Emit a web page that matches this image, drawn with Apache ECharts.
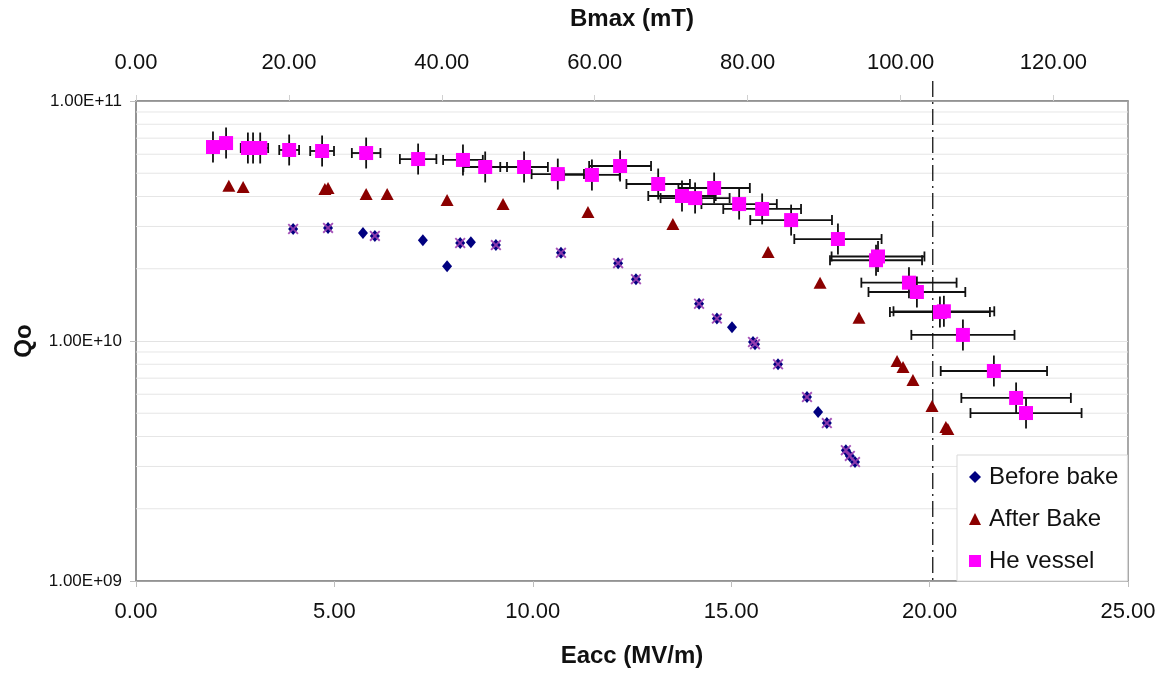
<!DOCTYPE html>
<html>
<head>
<meta charset="utf-8">
<script src="https://cdn.jsdelivr.net/npm/echarts@6/dist/echarts.min.js"></script>
<style>
html,body{margin:0;padding:0;background:#fff;}
#chart{width:1160px;height:673px;}
</style>
</head>
<body>
<div id="chart"></div>
<script>
// ---- Data ----
// He vessel: Eacc (MV/m), Qo, Eacc error (MV/m), Qo error factor
const heE = [1.94,2.27,2.82,2.95,3.13,3.86,4.69,5.80,7.11,8.24,8.80,9.78,10.63,11.49,12.20,13.16,13.76,14.09,14.57,15.20,15.78,16.51,17.69,18.65,18.70,19.48,19.68,20.26,20.36,20.84,21.62,22.18,22.43];
const heQ = [6.43e10,6.68e10,6.37e10,6.37e10,6.37e10,6.25e10,6.19e10,6.07e10,5.73e10,5.68e10,5.31e10,5.31e10,4.96e10,4.92e10,5.36e10,4.51e10,4.02e10,3.94e10,4.34e10,3.72e10,3.55e10,3.19e10,2.66e10,2.17e10,2.25e10,1.75e10,1.60e10,1.32e10,1.33e10,1.06e10,7.5e9,5.79e9,5.01e9];
const heEerr = [0.10,0.15,0.18,0.20,0.20,0.25,0.30,0.36,0.46,0.50,0.55,0.60,0.66,0.70,0.78,0.80,0.85,0.87,0.90,0.95,0.98,1.03,1.10,1.16,1.17,1.20,1.22,1.26,1.27,1.30,1.34,1.38,1.40];
const heQerr = [1.16,1.16,1.16,1.16,1.16,1.16,1.16,1.16,1.16,1.16,1.16,1.16,1.16,1.16,1.16,1.16,1.16,1.16,1.16,1.16,1.16,1.16,1.16,1.16,1.16,1.16,1.16,1.16,1.16,1.16,1.16,1.16,1.16];

// Before bake
const bbE = [3.96,4.84,5.72,6.02,7.23,7.84,8.17,8.44,9.07,10.71,12.15,12.60,14.19,14.64,15.02,15.55,15.60,16.18,16.91,17.19,17.41,17.89,17.99,18.12];
const bbQ = [2.93e10,2.96e10,2.82e10,2.74e10,2.63e10,2.05e10,2.56e10,2.58e10,2.51e10,2.33e10,2.11e10,1.81e10,1.43e10,1.24e10,1.14e10,9.9e9,9.7e9,8.0e9,5.84e9,5.06e9,4.55e9,3.51e9,3.32e9,3.13e9];

// Overlay "x" markers (unlabelled series)
const xsE = [3.96,4.84,6.02,8.17,9.07,10.71,12.15,12.60,14.19,14.64,15.55,15.60,16.18,16.91,17.41,17.89,17.99,18.12];
const xsQ = [2.93e10,2.96e10,2.74e10,2.56e10,2.51e10,2.33e10,2.11e10,1.81e10,1.43e10,1.24e10,9.9e9,9.7e9,8.0e9,5.84e9,4.55e9,3.51e9,3.32e9,3.13e9];

// After Bake
const abE = [2.34,2.70,4.76,4.84,5.80,6.33,7.84,9.25,11.39,13.53,15.93,17.24,18.22,19.18,19.33,19.58,20.06,20.41,20.46];
const abQ = [4.43e10,4.38e10,4.30e10,4.34e10,4.10e10,4.10e10,3.87e10,3.72e10,3.45e10,3.07e10,2.35e10,1.75e10,1.25e10,8.25e9,7.8e9,6.88e9,5.36e9,4.38e9,4.30e9];

// Axes
const eaccMin = 0, eaccMax = 25, eaccStep = 5;
const bmaxMin = 0, bmaxMax = 129.75, bmaxStep = 20;
const qMin = 1e9, qMax = 1e11;
const minorQ = [2e9,3e9,4e9,5e9,6e9,7e9,8e9,9e9,2e10,3e10,4e10,5e10,6e10,7e10,8e10,9e10];
const limitE = [20.08];

// ---- Chart ----
const FONT = 'Liberation Sans, Arial, sans-serif';
const zip = (a,b) => a.map((v,i)=>[v,b[i]]);
const chart = echarts.init(document.getElementById('chart'), null, {renderer:'canvas'});

const xPath = 'path://M0,1.2 L1.2,0 L5,3.8 L8.8,0 L10,1.2 L6.2,5 L10,8.8 L8.8,10 L5,6.2 L1.2,10 L0,8.8 L3.8,5 Z';

chart.setOption({
  animation:false,
  backgroundColor:'#fff',
  textStyle:{fontFamily:FONT},
  grid:{left:136,right:32,top:101,bottom:92,show:true,borderColor:'#8c8c8c',borderWidth:1.5,backgroundColor:'#fff'},
  legend:{
    data:[{name:'Before bake',icon:'diamond'},{name:'After Bake',icon:'triangle'},{name:'He vessel',icon:'rect'}],
    orient:'vertical',left:957,top:455,
    padding:[10,9,8,12],
    itemWidth:12,itemHeight:12,itemGap:18,
    backgroundColor:'#fff',borderColor:'#d9d9d9',borderWidth:1,
    textStyle:{fontSize:24,color:'#111',fontFamily:FONT,padding:[0,0,0,3]},
    selectedMode:false
  },
  xAxis:[{
    type:'value',position:'bottom',min:eaccMin,max:eaccMax,interval:eaccStep,
    name:'Eacc (MV/m)',nameLocation:'middle',nameGap:63,
    nameTextStyle:{fontSize:24,fontWeight:'bold',color:'#111',fontFamily:FONT},
    axisLine:{lineStyle:{color:'#8c8c8c',width:1.5}},
    axisTick:{show:true,inside:false,length:6,lineStyle:{color:'#bdbdbd'}},
    axisLabel:{fontSize:22,color:'#111',margin:20,formatter:v=>v.toFixed(2),hideOverlap:false},
    splitLine:{show:false}
  },{
    type:'value',position:'top',min:bmaxMin,max:bmaxMax,interval:bmaxStep,
    name:'Bmax (mT)',nameLocation:'middle',nameGap:70,
    nameTextStyle:{fontSize:24,fontWeight:'bold',color:'#111',fontFamily:FONT},
    axisLine:{lineStyle:{color:'#8c8c8c',width:1.5}},
    axisTick:{show:true,inside:false,length:6,lineStyle:{color:'#d0d0d0'}},
    axisLabel:{fontSize:22,color:'#111',margin:27,showMaxLabel:false,
      formatter:v=>(Math.abs(v % bmaxStep) < 1e-9 ? v.toFixed(2) : ''),hideOverlap:false},
    splitLine:{show:false}
  }],
  yAxis:[{
    type:'log',logBase:10,min:qMin,max:qMax,
    name:'Qo',nameLocation:'middle',nameGap:100,nameRotate:90,
    nameTextStyle:{fontSize:24,fontWeight:'bold',color:'#111',fontFamily:FONT},
    axisLine:{lineStyle:{color:'#8c8c8c',width:1.5}},
    axisTick:{show:true,inside:false,length:6,lineStyle:{color:'#bdbdbd'}},
    axisLabel:{fontSize:17,color:'#111',margin:14,formatter:function(v){
      const ex = Math.round(Math.log10(v)); const m = v/Math.pow(10,ex);
      return m.toFixed(2)+'E+'+String(ex).padStart(2,'0');
    }},
    splitLine:{show:true,lineStyle:{color:'#e3e3e3',width:1}}
  }],
  series:[
    { // minor log gridlines
      type:'custom',name:'grid',silent:true,z:1,
      data:minorQ.map(v=>[v]),
      encode:{y:0},
      renderItem:function(params,api){
        const a = api.coord([eaccMin, api.value(0)]);
        const b = api.coord([eaccMax, api.value(0)]);
        return {type:'line',shape:{x1:a[0],y1:a[1],x2:b[0],y2:b[1]},style:{stroke:'#e6e6e6',lineWidth:1}};
      }
    },
    { // Eacc limit dash-dot line
      type:'custom',name:'limit',silent:true,z:2,clip:false,
      data:limitE.map(v=>[v, qMax]),
      encode:{x:0,y:1},
      renderItem:function(params,api){
        const t = api.coord([api.value(0), qMax]);
        const b = api.coord([api.value(0), qMin]);
        return {type:'line',shape:{x1:t[0],y1:t[1]-20,x2:b[0],y2:b[1]},
          style:{stroke:'#000',lineWidth:1.2,lineDash:[16,5,2,5]}};
      }
    },
    { // He vessel error bars
      type:'custom',name:'errors',silent:true,z:3,
      data:heE.map((e,i)=>[e,heQ[i],heEerr[i],heQerr[i]]),
      encode:{x:0,y:1},
      renderItem:function(params,api){
        const e=api.value(0), q=api.value(1), ex=api.value(2), qf=api.value(3);
        const c = api.coord([e,q]);
        const l = api.coord([e-ex,q]);
        const r = api.coord([e+ex,q]);
        const t = api.coord([e,q*qf]);
        const b = api.coord([e,q/qf]);
        const st = {stroke:'#111',lineWidth:1.8};
        const cap = 5;
        return {type:'group',children:[
          {type:'line',shape:{x1:l[0],y1:c[1],x2:r[0],y2:c[1]},style:st},
          {type:'line',shape:{x1:l[0],y1:c[1]-cap,x2:l[0],y2:c[1]+cap},style:st},
          {type:'line',shape:{x1:r[0],y1:c[1]-cap,x2:r[0],y2:c[1]+cap},style:st},
          {type:'line',shape:{x1:c[0],y1:t[1],x2:c[0],y2:b[1]},style:st}
        ]};
      }
    },
    {
      type:'scatter',name:'Before bake',z:4,symbol:'diamond',symbolSize:[10,12],
      itemStyle:{color:'#000080',opacity:1},data:zip(bbE,bbQ)
    },
    {
      type:'scatter',name:'xmarks',z:5,symbol:xPath,symbolSize:11,
      itemStyle:{color:'#9a3fb0',opacity:0.9},data:zip(xsE,xsQ)
    },
    {
      type:'scatter',name:'After Bake',z:4,symbol:'triangle',symbolSize:[13,12],
      itemStyle:{color:'#8b0000',opacity:1},data:zip(abE,abQ)
    },
    {
      type:'scatter',name:'He vessel',z:6,symbol:'rect',symbolSize:14,
      itemStyle:{color:'#ff00ff',opacity:1},data:zip(heE,heQ)
    }
  ]
});
</script>
</body>
</html>
